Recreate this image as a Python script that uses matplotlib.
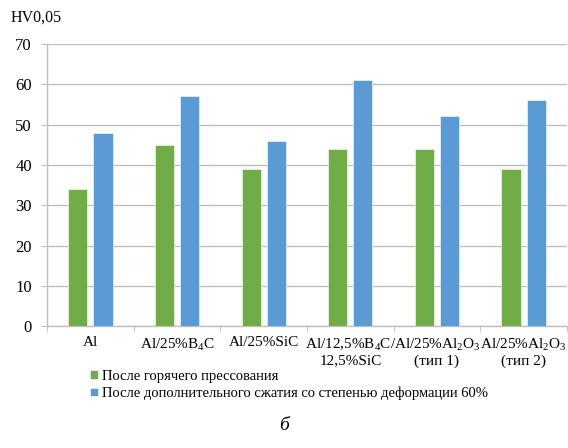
import numpy as np
import matplotlib
matplotlib.use("Agg")
import matplotlib.pyplot as plt

plt.rcParams['font.family'] = ['Liberation Serif', 'DejaVu Serif']
plt.rcParams['mathtext.fontset'] = 'custom'
plt.rcParams['mathtext.rm'] = 'Liberation Serif'

labels = ['Al', 'Al/25%B$_4$C', 'Al/25%SiC', 'Al/12,5%B$_4$C/\n12,5%SiC',
          'Al/25%Al$_2$O$_3$\n(тип 1)', 'Al/25%Al$_2$O$_3$\n(тип 2)']
hot_pressed = [34, 45, 39, 44, 44, 39]
compressed = [48, 57, 46, 61, 52, 56]
series_names = ['После горячего прессования',
                'После дополнительного сжатия со степенью деформации 60%']

green = '#70AD47'
blue = '#5B9BD5'
grid_c = '#BFBFBF'

fig = plt.figure(figsize=(5.68, 4.48), dpi=100)
ax = fig.add_axes([0.083, 0.272, 0.915, 0.63])

x = np.arange(len(labels))
w = 0.22
b1 = ax.bar(x - 0.145, hot_pressed, w, color=green, edgecolor='white', linewidth=0.4, zorder=3)
b2 = ax.bar(x + 0.145, compressed, w, color=blue, edgecolor='white', linewidth=0.4, zorder=3)

ax.set_xlim(-0.5, len(labels) - 0.5)
ax.set_ylim(0, 70)
ax.set_yticks(range(0, 71, 10))
ax.yaxis.grid(True, color=grid_c, linewidth=1, zorder=0)
ax.tick_params(axis='y', length=4, color=grid_c, labelsize=12, pad=7)

# category labels at centers, tick marks at category boundaries
ax.set_xticks(x)
ax.set_xticklabels(labels, fontsize=11, linespacing=1.2)
ax.tick_params(axis='x', which='major', length=0, pad=7)
ax.set_xticks(np.arange(-0.5, len(labels)), minor=True)
ax.tick_params(axis='x', which='minor', length=4, color=grid_c)

for s in ['top', 'right']:
    ax.spines[s].set_visible(False)
for s in ['left', 'bottom']:
    ax.spines[s].set_color(grid_c)
    ax.spines[s].set_linewidth(1)

fig.text(0.018, 0.96, 'HV0,05', fontsize=11.5, va='center', ha='left')

fig.legend([b1, b2], series_names, loc='upper left',
           bbox_to_anchor=(0.158, 0.174), frameon=False, fontsize=10.5,
           handlelength=0.55, handleheight=0.55, handletextpad=0.3,
           labelspacing=0.25, borderaxespad=0, borderpad=0)

fig.text(0.5, 0.05, 'б', fontsize=14, style='italic', ha='center', va='center')

fig.savefig('out.png', dpi=100)
